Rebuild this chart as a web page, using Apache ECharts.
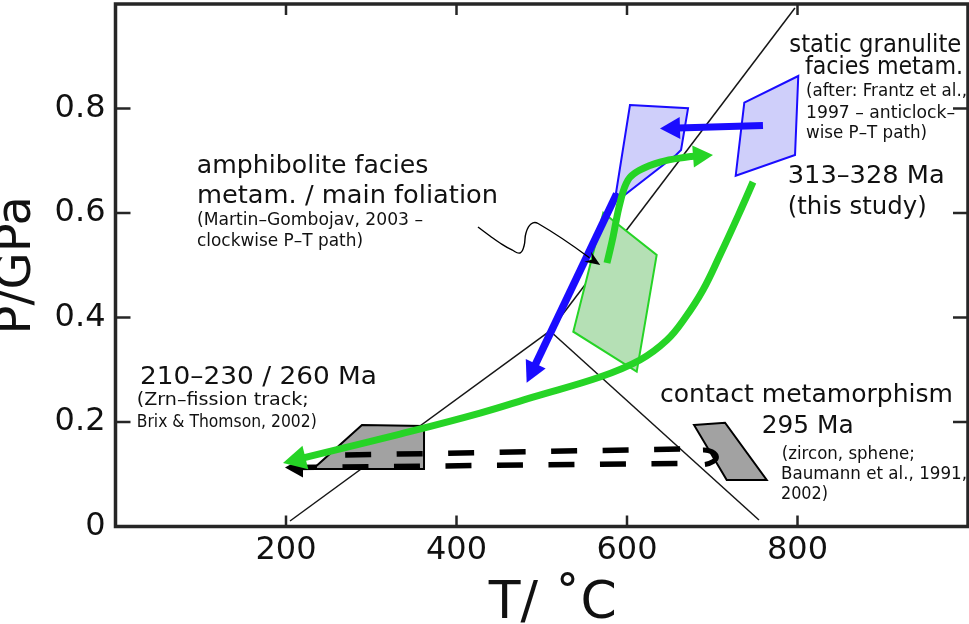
<!DOCTYPE html>
<html><head><meta charset="utf-8">
<script src="https://cdn.jsdelivr.net/npm/echarts@6/dist/echarts.min.js"></script>
<style>html,body{margin:0;padding:0;background:#fff}#c{width:969px;height:624px}</style>
</head><body><div id="c"></div>
<script>
// ---------------- data (T in °C, P in GPa) ----------------
const xTicks = [200, 400, 600, 800];
const yTicks = [0, 0.2, 0.4, 0.6, 0.8];

// aluminosilicate reaction lines
const kyAndLine  = [[204.7, 0.0105], [509.7, 0.3742]];
const kySilLine  = [[509.7, 0.3742], [797.0, 0.9923]];
const andSilLine = [[509.7, 0.3742], [754.8, 0.0124]];

// P-T fields
const fissionTrackField = [[289.1, 0.1943], [361.9, 0.1923], [361.9, 0.1100], [231.7, 0.1100]];
const contactField      = [[678.6, 0.1943], [715.0, 0.1987], [763.9, 0.0890], [717.0, 0.0890]];
const amphiboliteField  = [[603.5, 0.8067], [671.6, 0.8004], [663.4, 0.7206], [657.5, 0.7110], [594.1, 0.6306], [587.1, 0.6383]];
const granuliteField    = [[737.6, 0.8111], [800.9, 0.8622], [797.1, 0.7110], [727.5, 0.6714]];
const thisStudyField    = [[572.2, 0.6006], [634.8, 0.5196], [611.4, 0.2963], [537.0, 0.3728]];

// P-T paths
const bluePathIsobaric = [[759.5, 0.7675], [638.7, 0.7617]];
const bluePathDecomp   = [[587.9, 0.6364], [482.3, 0.2752]];
const greenPathUp = [[576.5, 0.5043], [583.6, 0.5541], [591.8, 0.6191], [601.2, 0.6632], [615.2, 0.6823], [638.7, 0.6976], [670.4, 0.7072], [700.9, 0.7110]];
const greenPathDown = [[747.8, 0.6593], [730.7, 0.5960], [709.1, 0.5196], [689.1, 0.4526], [668.0, 0.3990], [646.9, 0.3569], [615.2, 0.3187], [568.3, 0.2861], [489.7, 0.2478], [427.6, 0.2172], [333.8, 0.1770], [196.5, 0.1215]];
const coolingUpper = [[269.4, 0.1368], [689.1, 0.1491]];
const coolingLower = [[198.8, 0.1129], [689.1, 0.1210]];
const coolingTurn  = [[689.1, 0.1464], [699.6, 0.1430], [704.9, 0.1330], [700.8, 0.1240], [691.4, 0.1185]];
const pointerCurve = [[425.2, 0.5732], [439.3, 0.5560], [451.0, 0.5426], [465.1, 0.5292], [474.5, 0.5234], [479.2, 0.5368], [481.5, 0.5617], [487.4, 0.5789], [495.7, 0.5799], [568.6, 0.5005]];

// annotation texts
const noteTexts = [
  "amphibolite facies", "metam. / main foliation", "(Martin\u2013Gombojav, 2003 \u2013", "clockwise P\u2013T path)",
  "static granulite", "facies metam.", "(after: Frantz et al.,", "1997 \u2013 anticlock\u2013", "wise P\u2013T path)",
  "313\u2013328 Ma", "(this study)",
  "210\u2013230 / 260 Ma", "(Zrn\u2013fission track;", "Brix & Thomson, 2002)",
  "contact metamorphism", "295 Ma", "(zircon, sphene;", "Baumann et al., 1991,", "2002)"
];

// ---------------- layout / style ----------------
const FONT = '"DejaVu Sans", sans-serif';
// anchor (data coords, left/middle), font size, target width (px)
const noteLayout = [
  [95.3, 0.6890, 25, 231.6], [95.6, 0.6325, 25, 301], [95.6, 0.5853, 17, 226], [95.6, 0.5451, 17, 166],
  [790.4, 0.9200, 25, 172], [808.8, 0.8790, 25, 158], [810.0, 0.8322, 17, 161], [810.0, 0.7908, 17, 149], [810.0, 0.7525, 17, 121],
  [788.5, 0.6695, 25, 157], [788.5, 0.6110, 25, 139],
  [28.7, 0.2861, 25, 237], [24.9, 0.2408, 17, 172], [24.9, 0.1994, 17, 180],
  [638.7, 0.2500, 25, 293], [758.0, 0.1910, 25, 92], [781.5, 0.1368, 17, 133], [780.6, 0.0986, 17, 186], [780.6, 0.0603, 17, 47]
];

const BLUE = '#1a0cff', BLUE_FILL = '#cfcffa';
const GREEN = '#26d426', GREEN_FILL = '#b5e0b5';
const GRAY_FILL = '#a2a2a2', INK = '#161616', FRAME = '#262626';
const X_TICK_LEN = 11, Y_TICK_LEN = 15;

const measureCtx = document.createElement('canvas').getContext('2d');
function textWidth(t, size) { measureCtx.font = size + 'px ' + FONT; return measureCtx.measureText(t).width; }

function arrowHead(tip, from, len, half, color, notch) {
  const dx = tip[0] - from[0], dy = tip[1] - from[1];
  const d = Math.hypot(dx, dy) || 1, ux = dx / d, uy = dy / d;
  const bx = tip[0] - ux * len, by = tip[1] - uy * len;
  const pts = [tip, [bx - uy * half, by + ux * half]];
  if (notch) pts.push([bx + ux * len * notch, by + uy * len * notch]);
  pts.push([bx + uy * half, by - ux * half]);
  return { shape: { type: 'polygon', shape: { points: pts }, style: { fill: color, stroke: null } },
           base: [bx + ux * 2, by + uy * 2] };
}

function pathSeries(pts, o) {
  return {
    type: 'custom', coordinateSystem: 'cartesian2d', silent: true, z: o.z || 5,
    data: [pts[0]], encode: { x: 0, y: 1 }, clip: false,
    renderItem(params, api) {
      const px = pts.map(p => api.coord(p));
      const children = [];
      let head = null;
      if (o.head) {
        head = arrowHead(px[px.length - 1], px[px.length - 2], o.head[0], o.head[1], o.color, o.head[2]);
        px[px.length - 1] = head.base;
      }
      children.push({
        type: 'polyline', shape: { points: px, smooth: o.smooth || 0 },
        style: { stroke: o.color, lineWidth: o.width, fill: null, lineDash: o.dash || null, lineDashOffset: o.dashOffset || 0, lineCap: o.cap || 'butt', lineJoin: 'round' }
      });
      if (head) children.push(head.shape);
      return { type: 'group', children };
    }
  };
}

function polySeries(pts, o) {
  return {
    type: 'custom', coordinateSystem: 'cartesian2d', silent: true, z: o.z || 4,
    data: [pts[0]], encode: { x: 0, y: 1 }, clip: false,
    renderItem(params, api) {
      return { type: 'polygon', shape: { points: pts.map(p => api.coord(p)) },
               style: { fill: o.fill, stroke: o.stroke, lineWidth: o.width, lineJoin: 'miter' } };
    }
  };
}

// inward ticks on all four sides of the frame, placed via the axis scales
const tickSeries = {
  type: 'custom', coordinateSystem: 'cartesian2d', silent: true, z: 3, clip: false,
  data: [[0, 0]], encode: { x: 0, y: 1 },
  renderItem(params, api) {
    const ch = [];
    const seg = (a, b) => ({ type: 'line', shape: { x1: a[0], y1: a[1], x2: b[0], y2: b[1] }, style: { stroke: FRAME, lineWidth: 2.5 } });
    xTicks.forEach(v => {
      const b = api.coord([v, 0]), t = api.coord([v, 1]);
      ch.push(seg(b, [b[0], b[1] - X_TICK_LEN]), seg(t, [t[0], t[1] + X_TICK_LEN]));
    });
    yTicks.filter(v => v > 0).forEach(v => {
      const l = api.coord([0, v]), r = api.coord([1000, v]);
      ch.push(seg(l, [l[0] + Y_TICK_LEN, l[1]]), seg(r, [r[0] - Y_TICK_LEN, r[1]]));
    });
    return { type: 'group', children: ch };
  }
};

const noteSeries = {
  type: 'custom', coordinateSystem: 'cartesian2d', silent: true, z: 30, clip: false,
  data: noteLayout.map(l => [l[0], l[1]]), encode: { x: 0, y: 1 },
  renderItem(params, api) {
    const i = params.dataIndex, L = noteLayout[i], t = noteTexts[i];
    const p = api.coord([api.value(0), api.value(1)]);
    return { type: 'text', x: p[0], y: p[1], scaleX: L[3] / textWidth(t, L[2]),
      style: { text: t, x: 0, y: 0, fill: '#111', font: L[2] + 'px ' + FONT,
               textAlign: 'left', textVerticalAlign: 'middle', align: 'left', verticalAlign: 'middle' } };
  }
};

const axisCommon = { type: 'value', splitLine: { show: false }, axisLine: { show: false }, axisTick: { show: false } };

const chart = echarts.init(document.getElementById('c'), null, { renderer: 'canvas' });
chart.setOption({
  animation: false,
  backgroundColor: '#fff',
  grid: { left: 115.5, top: 4, width: 852.5, height: 522.5, show: true, borderColor: FRAME, borderWidth: 3.5,
          backgroundColor: 'transparent', containLabel: false, outerBoundsMode: 'none' },
  xAxis: [
    Object.assign({}, axisCommon, { min: 0, max: 1000, interval: 200, position: 'bottom',
      axisLabel: { customValues: xTicks, fontSize: 32, fontFamily: FONT, color: '#111', margin: 8 },
      name: 'T/ \u02DAC', nameLocation: 'middle', nameGap: 52,
      nameTextStyle: { fontSize: 52, fontFamily: FONT, color: '#111', padding: [0, 0, 0, 22] } })
  ],
  yAxis: [
    Object.assign({}, axisCommon, { min: 0, max: 1, interval: 0.2, position: 'left',
      axisLabel: { customValues: yTicks, fontSize: 32, fontFamily: FONT, color: '#111', margin: 10 },
      name: 'P/GPa', nameLocation: 'middle', nameRotate: 90, nameGap: 74,
      nameTextStyle: { fontSize: 48, fontFamily: FONT, color: '#111' } })
  ],
  series: [
    tickSeries,
    pathSeries(kyAndLine,  { color: INK, width: 1.5, z: 2 }),
    pathSeries(kySilLine,  { color: INK, width: 1.5, z: 2 }),
    pathSeries(andSilLine, { color: INK, width: 1.5, z: 2 }),
    polySeries(fissionTrackField, { fill: GRAY_FILL, stroke: '#000', width: 2, z: 3 }),
    polySeries(contactField,      { fill: GRAY_FILL, stroke: '#000', width: 2, z: 3 }),
    pathSeries(coolingUpper, { color: '#000', width: 5.5, dash: [26, 25.5], z: 4 }),
    pathSeries(coolingLower, { color: '#000', width: 5.5, dash: [26, 25.5], dashOffset: 45.5, z: 4 }),
    pathSeries([[213.5, 0.1129], [198.8, 0.1129]], { color: '#000', width: 5.5, head: [18, 10], z: 4 }),
    pathSeries(coolingTurn, { color: '#000', width: 5, smooth: 0.5, z: 4 }),
    polySeries(thisStudyField,   { fill: GREEN_FILL, stroke: GREEN, width: 2, z: 5 }),
    polySeries(amphiboliteField, { fill: BLUE_FILL, stroke: BLUE, width: 2, z: 6 }),
    polySeries(granuliteField,   { fill: BLUE_FILL, stroke: BLUE, width: 2, z: 6 }),
    pathSeries(bluePathIsobaric, { color: BLUE, width: 7, head: [20, 11], z: 7 }),
    pathSeries(bluePathDecomp,   { color: BLUE, width: 7.5, head: [21, 11], z: 7 }),
    pathSeries(greenPathUp,   { color: GREEN, width: 7, smooth: 0.4, head: [20, 11], z: 8 }),
    pathSeries(greenPathDown, { color: GREEN, width: 7, smooth: 0.4, head: [23, 12], z: 8 }),
    pathSeries(pointerCurve,  { color: '#000', width: 1.4, smooth: 0.45, head: [15, 6, 0.35], z: 9 }),
    noteSeries
  ]
});
</script></body></html>
